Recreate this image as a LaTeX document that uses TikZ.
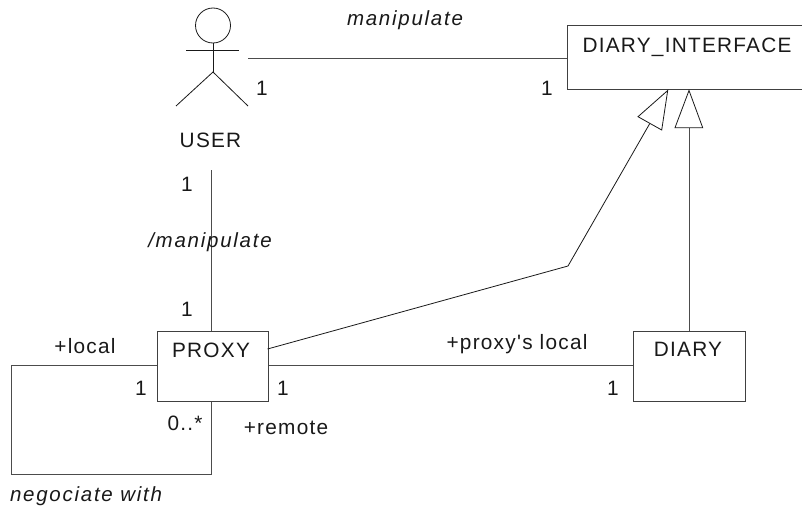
\documentclass[tikz,border=0pt]{standalone}
\usepackage{fontspec}
\setmainfont{Liberation Sans}
\newfontfamily\spacedfont[LetterSpace=6]{Liberation Sans}
\newfontfamily\spaceditfont[LetterSpace=8.5,ItalicFont={Liberation Sans Italic}]{Liberation Sans}
\tikzset{
  x=1pt,y=-1pt,
  umlbox/.style={draw=black!75,line width=1pt,fill=white,inner sep=0pt,anchor=north west},
  conn/.style={draw=black!70,line width=1pt},
  thinconn/.style={draw=black!90,line width=.8pt},
  lbl/.style={inner sep=0pt,anchor=base,text=black!90,font=\fontsize{20.8}{23}\selectfont\spacedfont},
  itlbl/.style={lbl,font=\fontsize{20.5}{23}\selectfont\spaceditfont\itshape},
  gen/.style={draw=black!90,line width=.8pt,fill=white,line join=miter}
}
\begin{document}
\begin{tikzpicture}
\useasboundingbox (0,0) rectangle (802,506);
\fill[white] (0,0) rectangle (802,506);
% boxes
\node[umlbox,minimum width=235pt,minimum height=64pt] (iface) at (566.5,25) {};
\node[umlbox,minimum width=111pt,minimum height=70pt] (proxy) at (156.5,331) {};
\node[umlbox,minimum width=112pt,minimum height=70pt] (diary) at (632.7,331) {};
% actor
\node[draw=black!90,line width=.8pt,circle,minimum size=35pt,inner sep=0pt] (head) at (213,25.5) {};
\coordinate (armL) at (186,50);
\coordinate (armR) at (239,50);
\coordinate (hip) at (213,72);
\coordinate (legL) at (176,106);
\coordinate (legR) at (248,106);
\draw[thinconn] (head.south) -- (hip);
\draw[thinconn] (armL) -- (armR);
\draw[thinconn] (legL) -- (hip) -- (legR);
% associations
\coordinate (assocA) at (248,58);
\draw[conn] (assocA) -- (assocA -| iface.west);
\coordinate (userEnd) at (211,170);
\draw[conn] (userEnd) -- (userEnd |- proxy.north);
\coordinate (loopA) at (11,365.5);
\coordinate (loopB) at (11,474.5);
\coordinate (loopC) at (211,474.5);
\draw[conn] (loopA -| proxy.west) -- (loopA) -- (loopB) -- (loopC) -- (loopC |- proxy.south);
\draw[conn] (loopA -| proxy.east) -- (loopA -| diary.west);
% generalizations
\coordinate (tipA) at (667.7,90.5);
\coordinate (baseA1) at (638,116.7);
\coordinate (baseA2) at (661.7,130);
\coordinate (midA) at (649.9,123.3);
\coordinate (bend) at (568,266);
\coordinate (proxyOut) at (267.5,349);
\draw[thinconn] (proxyOut) -- (bend) -- (midA);
\draw[gen] (tipA) -- (baseA1) -- (baseA2) -- cycle;
\coordinate (tipB) at (689,90.5);
\coordinate (baseB1) at (675,127.7);
\coordinate (baseB2) at (702.7,127.7);
\coordinate (midB) at (689,127.7);
\draw[conn] (midB) -- (midB |- diary.north);
\draw[gen] (tipB) -- (baseB1) -- (baseB2) -- cycle;
% labels
\node[lbl] (lblIface) at (687,52) {DIARY\_INTERFACE};
\node[lbl] (lblProxy) at (211,357) {PROXY};
\node[lbl] (lblDiary) at (688,356.5) {DIARY};
\node[lbl] (lblUser) at (210.5,147) {USER};
\node[lbl] (m1) at (262,95) {1};
\node[lbl] (m2) at (547,95) {1};
\node[lbl] (m3) at (187,191) {1};
\node[lbl] (m4) at (187,316) {1};
\node[lbl] (m5) at (141,395) {1};
\node[lbl] (m6) at (283,395) {1};
\node[lbl] (m7) at (613,395) {1};
\node[lbl] (m8) at (185,430) {0..*};
\node[lbl] (rLocal) at (85,353) {+local};
\node[lbl] (rRemote) at (286,434) {+remote};
\node[lbl] (rProxy) at (517,349) {+proxy's local};
\node[itlbl] (n1) at (405,25.5) {manipulate};
\node[itlbl] (n2) at (210,247) {/manipulate};
\node[itlbl] (n3) at (86,501.5) {negociate with};
\end{tikzpicture}
\end{document}
